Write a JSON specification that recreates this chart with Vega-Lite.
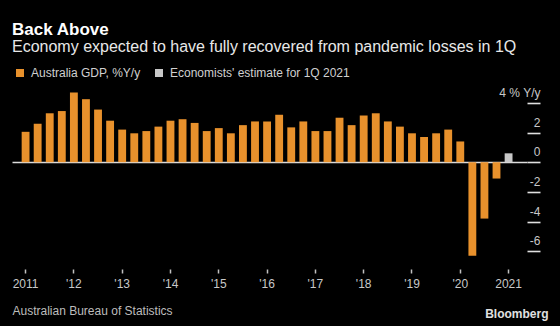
{
  "$schema": "https://vega.github.io/schema/vega-lite/v6.json",
  "width": 515,
  "height": 175,
  "autosize": {"type": "none"},
  "padding": {"left": 12, "top": 94, "right": 33, "bottom": 57},
  "background": "#000000",
  "config": {"view": {"stroke": null}, "font": "Liberation Sans", "axis": {"ticks": true, "tickOpacity": 1}},
  "title": {
    "text": "Back Above",
    "subtitle": "Economy expected to have fully recovered from pandemic losses in 1Q",
    "anchor": "start",
    "frame": "group",
    "fontSize": 17,
    "fontWeight": "bold",
    "color": "#ffffff",
    "subtitleFontSize": 16,
    "subtitleColor": "#e8e8e8",
    "subtitlePadding": 0,
    "offset": 11
  },
  "data": {
    "values": [
      {"quarter": "2011 Q1", "value": 2.05, "series": "Australia GDP, %Y/y"},
      {"quarter": "2011 Q2", "value": 2.6, "series": "Australia GDP, %Y/y"},
      {"quarter": "2011 Q3", "value": 3.3, "series": "Australia GDP, %Y/y"},
      {"quarter": "2011 Q4", "value": 3.45, "series": "Australia GDP, %Y/y"},
      {"quarter": "2012 Q1", "value": 4.7, "series": "Australia GDP, %Y/y"},
      {"quarter": "2012 Q2", "value": 4.25, "series": "Australia GDP, %Y/y"},
      {"quarter": "2012 Q3", "value": 3.55, "series": "Australia GDP, %Y/y"},
      {"quarter": "2012 Q4", "value": 2.8, "series": "Australia GDP, %Y/y"},
      {"quarter": "2013 Q1", "value": 2.2, "series": "Australia GDP, %Y/y"},
      {"quarter": "2013 Q2", "value": 1.95, "series": "Australia GDP, %Y/y"},
      {"quarter": "2013 Q3", "value": 2.1, "series": "Australia GDP, %Y/y"},
      {"quarter": "2013 Q4", "value": 2.4, "series": "Australia GDP, %Y/y"},
      {"quarter": "2014 Q1", "value": 2.8, "series": "Australia GDP, %Y/y"},
      {"quarter": "2014 Q2", "value": 2.9, "series": "Australia GDP, %Y/y"},
      {"quarter": "2014 Q3", "value": 2.65, "series": "Australia GDP, %Y/y"},
      {"quarter": "2014 Q4", "value": 2.1, "series": "Australia GDP, %Y/y"},
      {"quarter": "2015 Q1", "value": 2.3, "series": "Australia GDP, %Y/y"},
      {"quarter": "2015 Q2", "value": 1.95, "series": "Australia GDP, %Y/y"},
      {"quarter": "2015 Q3", "value": 2.5, "series": "Australia GDP, %Y/y"},
      {"quarter": "2015 Q4", "value": 2.75, "series": "Australia GDP, %Y/y"},
      {"quarter": "2016 Q1", "value": 2.75, "series": "Australia GDP, %Y/y"},
      {"quarter": "2016 Q2", "value": 3.2, "series": "Australia GDP, %Y/y"},
      {"quarter": "2016 Q3", "value": 2.35, "series": "Australia GDP, %Y/y"},
      {"quarter": "2016 Q4", "value": 2.75, "series": "Australia GDP, %Y/y"},
      {"quarter": "2017 Q1", "value": 2.1, "series": "Australia GDP, %Y/y"},
      {"quarter": "2017 Q2", "value": 2.1, "series": "Australia GDP, %Y/y"},
      {"quarter": "2017 Q3", "value": 3.0, "series": "Australia GDP, %Y/y"},
      {"quarter": "2017 Q4", "value": 2.5, "series": "Australia GDP, %Y/y"},
      {"quarter": "2018 Q1", "value": 3.15, "series": "Australia GDP, %Y/y"},
      {"quarter": "2018 Q2", "value": 3.3, "series": "Australia GDP, %Y/y"},
      {"quarter": "2018 Q3", "value": 2.75, "series": "Australia GDP, %Y/y"},
      {"quarter": "2018 Q4", "value": 2.4, "series": "Australia GDP, %Y/y"},
      {"quarter": "2019 Q1", "value": 1.95, "series": "Australia GDP, %Y/y"},
      {"quarter": "2019 Q2", "value": 1.7, "series": "Australia GDP, %Y/y"},
      {"quarter": "2019 Q3", "value": 1.95, "series": "Australia GDP, %Y/y"},
      {"quarter": "2019 Q4", "value": 2.2, "series": "Australia GDP, %Y/y"},
      {"quarter": "2020 Q1", "value": 1.4, "series": "Australia GDP, %Y/y"},
      {"quarter": "2020 Q2", "value": -6.3, "series": "Australia GDP, %Y/y"},
      {"quarter": "2020 Q3", "value": -3.8, "series": "Australia GDP, %Y/y"},
      {"quarter": "2020 Q4", "value": -1.1, "series": "Australia GDP, %Y/y"},
      {"quarter": "2021 Q1", "value": 0.6, "series": "Economists' estimate for 1Q 2021"}
    ]
  },
  "mark": {"type": "bar"},
  "encoding": {
    "x": {
      "field": "quarter",
      "type": "ordinal",
      "sort": null,
      "scale": {"paddingInner": 0.35, "paddingOuter": 1.37, "align": 0.4},
      "axis": {
        "values": ["2011 Q1", "2012 Q1", "2013 Q1", "2014 Q1", "2015 Q1", "2016 Q1", "2017 Q1", "2018 Q1", "2019 Q1", "2020 Q1", "2021 Q1"],
        "labelExpr": "datum.value == '2011 Q1' ? '2011' : datum.value == '2021 Q1' ? '2021' : \"'\" + substring(datum.value, 2, 4)",
        "labelAngle": 0,
        "labelFontSize": 12,
        "labelColor": "#c8c8c8",
        "labelPadding": 5,
        "labelOverlap": false,
        "ticks": true,
        "tickSize": 4,
        "tickColor": "#c0c0c0",
        "tickWidth": 1.5,
        "domain": false,
        "grid": false,
        "title": "Australian Bureau of Statistics",
        "titleX": 0,
        "titleY": 45,
        "titleAlign": "left",
        "titleBaseline": "alphabetic",
        "titleFontSize": 12,
        "titleFontWeight": "normal",
        "titleColor": "#bdbdbd"
      }
    },
    "y": {
      "field": "value",
      "type": "quantitative",
      "scale": {"domain": [-7.2, 4.6], "nice": false, "zero": false},
      "axis": {
        "orient": "right",
        "values": [-6, -4, -2, 0, 2, 4],
        "labelExpr": "datum.value == 4 ? '4 % Y/y' : '' + datum.value",
        "labelAlign": "right",
        "labelBaseline": "alphabetic",
        "labelOffset": -6.5,
        "labelPadding": 0,
        "labelFlush": false,
        "labelOverlap": false,
        "labelFontSize": 12,
        "labelColor": "#c8c8c8",
        "ticks": true,
        "tickSize": 13,
        "tickColor": "#e0e0e0",
        "tickWidth": 1.6,
        "domain": false,
        "grid": true,
        "gridColor": {"condition": {"test": "datum.value === 0", "value": "#dcdcdc"}, "value": "transparent"},
        "gridWidth": 1.3,
        "title": "Bloomberg",
        "titleAngle": 0,
        "titleX": 21,
        "titleY": 223,
        "titleAlign": "right",
        "titleBaseline": "alphabetic",
        "titleFontSize": 12,
        "titleFontWeight": "bold",
        "titleColor": "#e0e0e0"
      }
    },
    "color": {
      "field": "series",
      "type": "nominal",
      "scale": {
        "domain": ["Australia GDP, %Y/y", "Economists' estimate for 1Q 2021"],
        "range": ["#e8912c", "#c8c8c8"]
      },
      "legend": {
        "orient": "none",
        "legendX": 2,
        "legendY": -27,
        "direction": "horizontal",
        "title": null,
        "symbolType": "square",
        "symbolSize": 64,
        "symbolStrokeWidth": 0,
        "labelFontSize": 12,
        "labelColor": "#d0d0d0",
        "labelOffset": 5,
        "labelLimit": 400,
        "columnPadding": 12,
        "padding": 0
      }
    }
  }
}
